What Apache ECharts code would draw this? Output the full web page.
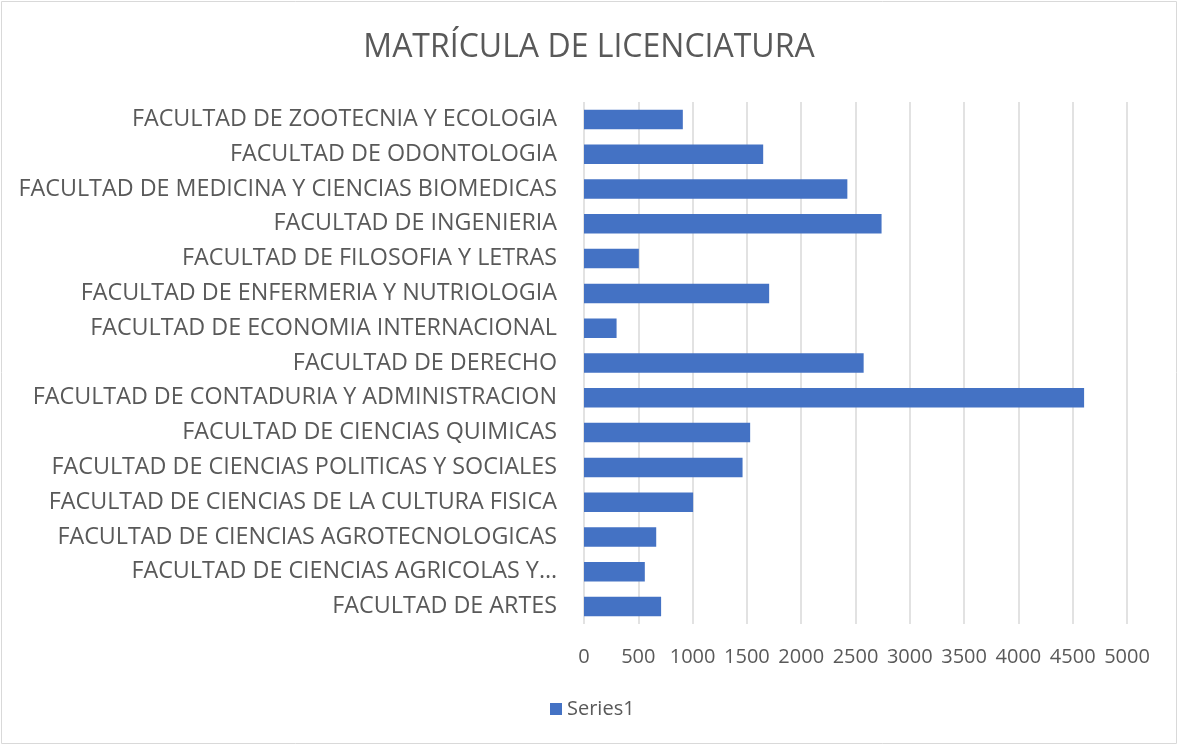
<!DOCTYPE html>
<html>
<head>
<meta charset="utf-8">
<script src="https://cdn.jsdelivr.net/npm/echarts@6/dist/echarts.min.js"></script>
<style>
  html, body { margin: 0; padding: 0; background: #fff; }
  #myChart { width: 1178px; height: 745px; }
</style>
</head>
<body>
<div id="myChart"></div>
<script>
// categorias de arriba hacia abajo
var facultades = [
  "FACULTAD DE ZOOTECNIA Y ECOLOGIA",
  "FACULTAD DE ODONTOLOGIA",
  "FACULTAD DE MEDICINA Y CIENCIAS BIOMEDICAS",
  "FACULTAD DE INGENIERIA",
  "FACULTAD DE FILOSOFIA Y LETRAS",
  "FACULTAD DE ENFERMERIA Y NUTRIOLOGIA",
  "FACULTAD DE ECONOMIA INTERNACIONAL",
  "FACULTAD DE DERECHO",
  "FACULTAD DE CONTADURIA Y ADMINISTRACION",
  "FACULTAD DE CIENCIAS QUIMICAS",
  "FACULTAD DE CIENCIAS POLITICAS Y SOCIALES",
  "FACULTAD DE CIENCIAS DE LA CULTURA FISICA",
  "FACULTAD DE CIENCIAS AGROTECNOLOGICAS",
  "FACULTAD DE CIENCIAS AGRICOLAS Y…",
  "FACULTAD DE ARTES"
];
var series1 = [910, 1650, 2425, 2740, 505, 1705, 300, 2575, 4605, 1530, 1460, 1005, 665, 560, 710];
var xTicks = { min: 0, max: 5000, interval: 500 };

var textColor = "#595959";
var fontName = "'Open Sans', 'DejaVu Sans', sans-serif";

var myChart = echarts.init(document.getElementById("myChart"));
myChart.setOption({
  animation: false,
  textStyle: { fontFamily: fontName },
  title: {
    text: "MATRÍCULA DE LICENCIATURA",
    left: "center",
    top: 27,
    textStyle: { color: textColor, fontSize: 32, fontWeight: "normal", fontFamily: fontName }
  },
  // borde del area del grafico
  graphic: [{
    type: "rect",
    shape: { x: 1.5, y: 1.5, width: 1175, height: 742 },
    style: { fill: "none", stroke: "#d9d9d9", lineWidth: 1 },
    silent: true
  }],
  legend: {
    data: ["Series1"],
    left: 545,
    bottom: 21,
    icon: "rect",
    itemWidth: 12,
    itemHeight: 12,
    itemGap: 6,
    textStyle: { color: textColor, fontSize: 20, fontFamily: fontName }
  },
  grid: {
    left: 584,
    right: 51,
    top: 102,
    bottom: 121,
    containLabel: false
  },
  xAxis: {
    type: "value",
    min: xTicks.min,
    max: xTicks.max,
    interval: xTicks.interval,
    axisLine: { show: false },
    axisTick: { show: false },
    axisLabel: {
      color: textColor, fontSize: 20, margin: 23, fontFamily: fontName,
      formatter: function (v) { return String(v); }
    },
    splitLine: { show: true, lineStyle: { color: "#d9d9d9", width: 1.5 } }
  },
  yAxis: {
    type: "category",
    inverse: true,
    data: facultades,
    axisLine: { show: false },
    axisTick: { show: false },
    axisLabel: { color: textColor, fontSize: 23.3, margin: 27, fontFamily: fontName }
  },
  series: [{
    name: "Series1",
    type: "bar",
    data: series1,
    barCategoryGap: "44%",
    itemStyle: { color: "#4472C4" }
  }]
});
</script>
</body>
</html>
